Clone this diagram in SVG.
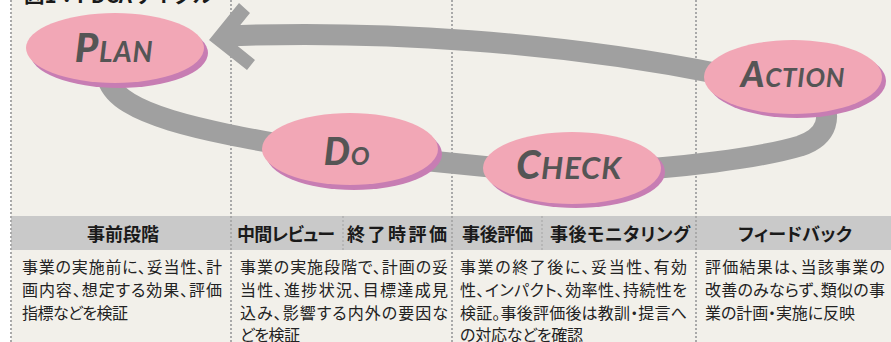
<svg xmlns="http://www.w3.org/2000/svg" width="891" height="342" viewBox="0 0 891 342">
<defs>
<style>
.bg{fill:#f2f0ea}
.vl{stroke:#a9a9a9;stroke-width:2;stroke-dasharray:2 2;fill:none}
.vl2{stroke:#b0b0b0;stroke-width:1.5;stroke-dasharray:2 2;fill:none}
.band{fill:#c9c9c9}
.arrow{stroke:#a0a0a0;stroke-width:21;fill:none}
.ahead{fill:#a0a0a0}
.pink{fill:#f2a7b6}
.shadow{fill:#c77db3}
.lbl{font-family:Lato,"Open Sans","DejaVu Sans",sans-serif;font-style:italic;font-weight:700;fill:#555555;text-anchor:middle;letter-spacing:0.8px}
.big{font-weight:900}
.hd{font-family:"Noto Sans CJK JP",sans-serif;font-weight:700;font-size:18px;fill:#1a1a1a;font-feature-settings:"palt"}
.bd{font-family:"Noto Sans CJK JP",sans-serif;font-size:16px;fill:#222222;font-feature-settings:"palt"}
.ttl{font-family:"Noto Sans CJK JP",sans-serif;font-weight:700;font-size:20px;fill:#1a1a1a}
</style>
</defs>
<rect x="0" y="0" width="891" height="342" fill="#ffffff"/>
<rect class="bg" x="11" y="0" width="880" height="342"/>
<text class="ttl" x="24" y="3" textLength="189" lengthAdjust="spacingAndGlyphs">図1：PDCAサイクル</text>
<rect class="band" x="11" y="216" width="880" height="34"/>
<g id="gridlines">
<line class="vl" x1="11" y1="0" x2="11" y2="342"/>
<line class="vl" x1="231" y1="0" x2="231" y2="342"/>
<line class="vl" x1="452" y1="0" x2="452" y2="342"/>
<line class="vl" x1="696" y1="0" x2="696" y2="342"/>
<line class="vl2" x1="343" y1="216" x2="343" y2="250"/>
<line class="vl2" x1="542" y1="216" x2="542" y2="250"/>
</g>
<g id="connectors">
<path class="arrow" d="M226 36 C380 30 560 42 720 74"/>
<polygon class="ahead" points="209,40 239,3 250,13 229,39 255,60 247,70"/>
<path class="arrow" d="M108 80 C120 115 200 130 300 148 L500 168 L600 172 C680 168 760 158 800 146 C830 136 830 115 822 100"/>
</g>
<g id="plan">
<ellipse class="shadow" cx="119" cy="53" rx="89" ry="35"/>
<ellipse class="pink" cx="115" cy="48" rx="89" ry="35"/>
<text class="lbl" x="114" y="62"><tspan class="big" font-size="40">P</tspan><tspan font-size="28">LAN</tspan></text>
</g>
<g id="do">
<ellipse class="shadow" cx="354" cy="154" rx="88" ry="36"/>
<ellipse class="pink" cx="350" cy="149" rx="88" ry="36"/>
<text class="lbl" x="347" y="165"><tspan class="big" font-size="37">D</tspan><tspan font-size="25">O</tspan></text>
</g>
<g id="check">
<ellipse class="shadow" cx="576" cy="172" rx="89" ry="36"/>
<ellipse class="pink" cx="572" cy="168" rx="89" ry="36"/>
<text class="lbl" x="569" y="179"><tspan class="big" font-size="39">C</tspan><tspan font-size="31">HECK</tspan></text>
</g>
<g id="action">
<ellipse class="shadow" cx="797" cy="81" rx="89" ry="37"/>
<ellipse class="pink" cx="793" cy="77" rx="89" ry="37"/>
<text class="lbl" x="793" y="87"><tspan class="big" font-size="36">A</tspan><tspan font-size="26">CTION</tspan></text>
</g>
<g id="headers">
<text class="hd" x="87" y="241" textLength="72">事前段階</text>
<text class="hd" x="237" y="241" textLength="98">中間レビュー</text>
<text class="hd" x="347" y="241" textLength="100">終了時評価</text>
<text class="hd" x="462" y="241" textLength="71">事後評価</text>
<text class="hd" x="550" y="241" textLength="140">事後モニタリング</text>
<text class="hd" x="738" y="241" textLength="114">フィードバック</text>
</g>
<g id="bodytext">
<text class="bd" x="22" y="273" textLength="200">事業の実施前に、妥当性、計</text>
<text class="bd" x="22" y="296" textLength="200">画内容、想定する効果、評価</text>
<text class="bd" x="22" y="318.5" textLength="106">指標などを検証</text>
<text class="bd" x="240" y="273" textLength="208">事業の実施段階で、計画の妥</text>
<text class="bd" x="240" y="296" textLength="208">当性、進捗状況、目標達成見</text>
<text class="bd" x="240" y="318.5" textLength="208">込み、影響する内外の要因な</text>
<text class="bd" x="240" y="340.5" textLength="60">どを検証</text>
<text class="bd" x="460" y="273" textLength="227">事業の終了後に、妥当性、有効</text>
<text class="bd" x="460" y="296" textLength="227">性、インパクト、効率性、持続性を</text>
<text class="bd" x="460" y="318.5" textLength="227">検証。事後評価後は教訓・提言へ</text>
<text class="bd" x="460" y="340.5" textLength="123">の対応などを確認</text>
<text class="bd" x="705" y="273" textLength="180">評価結果は、当該事業の</text>
<text class="bd" x="705" y="296" textLength="180">改善のみならず、類似の事</text>
<text class="bd" x="705" y="318.5" textLength="150">業の計画・実施に反映</text>
</g>
</svg>
